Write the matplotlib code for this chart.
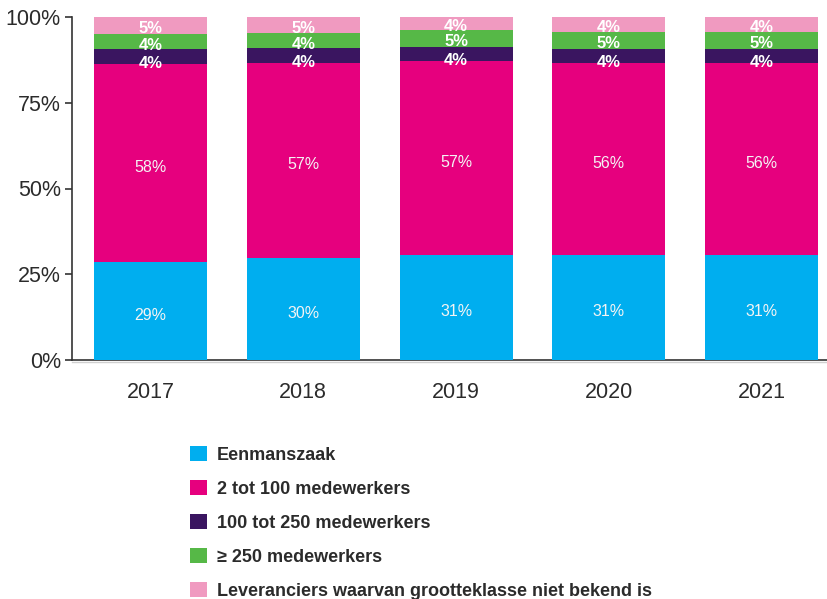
import matplotlib
matplotlib.use("Agg")
import matplotlib.pyplot as plt
from matplotlib.patches import Patch
from matplotlib import transforms
import numpy as np

plt.rcParams['font.family'] = ['Liberation Sans', 'DejaVu Sans']

years = ["2017", "2018", "2019", "2020", "2021"]
categories = [
    "Eenmanszaak",
    "2 tot 100 medewerkers",
    "100 tot 250 medewerkers",
    "\u2265 250 medewerkers",
    "Leveranciers waarvan grootteklasse niet bekend is",
]
eenmanszaak = [28.6, 29.6, 30.6, 30.6, 30.6]
mkb_2_100 = [57.6, 57.0, 56.6, 56.0, 56.0]
mw_100_250 = [4.4, 4.4, 4.1, 4.2, 4.2]
mw_250_plus = [4.4, 4.2, 4.9, 4.8, 4.8]
onbekend = [5.0, 4.8, 3.8, 4.4, 4.4]
series = [eenmanszaak, mkb_2_100, mw_100_250, mw_250_plus, onbekend]
colors = ["#00AEEF", "#E6007E", "#3A1560", "#56B847", "#F09AC0"]
y_ticks = [0, 25, 50, 75, 100]
y_tick_labels = ["0%", "25%", "50%", "75%", "100%"]

W, H = 828, 599
fig = plt.figure(figsize=(W / 100, H / 100), dpi=100)
ax = fig.add_axes([72 / W, 1 - 360 / H, (W - 72) / W, (360 - 17) / H])

x = np.arange(len(years))
bottom = np.zeros(len(years))
text_col = "#2b2b2b"
label_shift = [-3, -3, -5, -2.5, -2]
for i, (vals, col) in enumerate(zip(series, colors)):
    vals = np.array(vals)
    ax.bar(x, vals, bottom=bottom, width=0.74, color=col, zorder=3, linewidth=0)
    for xi, b, v in zip(x, bottom, vals):
        big = v > 15
        offset = transforms.offset_copy(ax.transData, fig=fig, x=0,
                                        y=label_shift[i], units='points')
        ax.text(xi, b + v / 2, f"{v:.0f}%", ha='center', va='center',
                color='#f4f4f4' if big else 'white',
                fontsize=11.5 if big else 12,
                fontweight='normal' if big else 'bold',
                transform=offset, zorder=4)
    bottom += vals

ax.set_xlim(-0.514, len(years) - 1 + 0.435)
ax.set_ylim(0, 100)
ax.set_xticks(x)
ax.set_xticklabels(years, fontsize=15.5, color=text_col)
ax.set_yticks(y_ticks)
ax.set_yticklabels(y_tick_labels, fontsize=15.5, color=text_col)
ax.tick_params(axis='x', length=0, pad=16)
ax.tick_params(axis='y', length=5, width=1.2, color="#333333", pad=3)
for s in ["top", "right"]:
    ax.spines[s].set_visible(False)
for s in ["left", "bottom"]:
    ax.spines[s].set_color("#333333")
    ax.spines[s].set_linewidth(1.2)
# faint baseline just under the bars
ax.axhline(-0.5, color="#d0d0d0", linewidth=1, zorder=2, clip_on=False)

handles = [Patch(facecolor=c, edgecolor='none') for c in colors]
leg = fig.legend(handles, categories, loc='upper left',
                 bbox_to_anchor=(190 / W, 1 - 446 / H),
                 frameon=False, handlelength=0.94, handleheight=0.94,
                 handletextpad=0.55, labelspacing=0.89, borderpad=0,
                 borderaxespad=0,
                 prop={'size': 13, 'weight': 'bold'})
for t in leg.get_texts():
    t.set_color(text_col)

fig.savefig("out.png", dpi=100)
